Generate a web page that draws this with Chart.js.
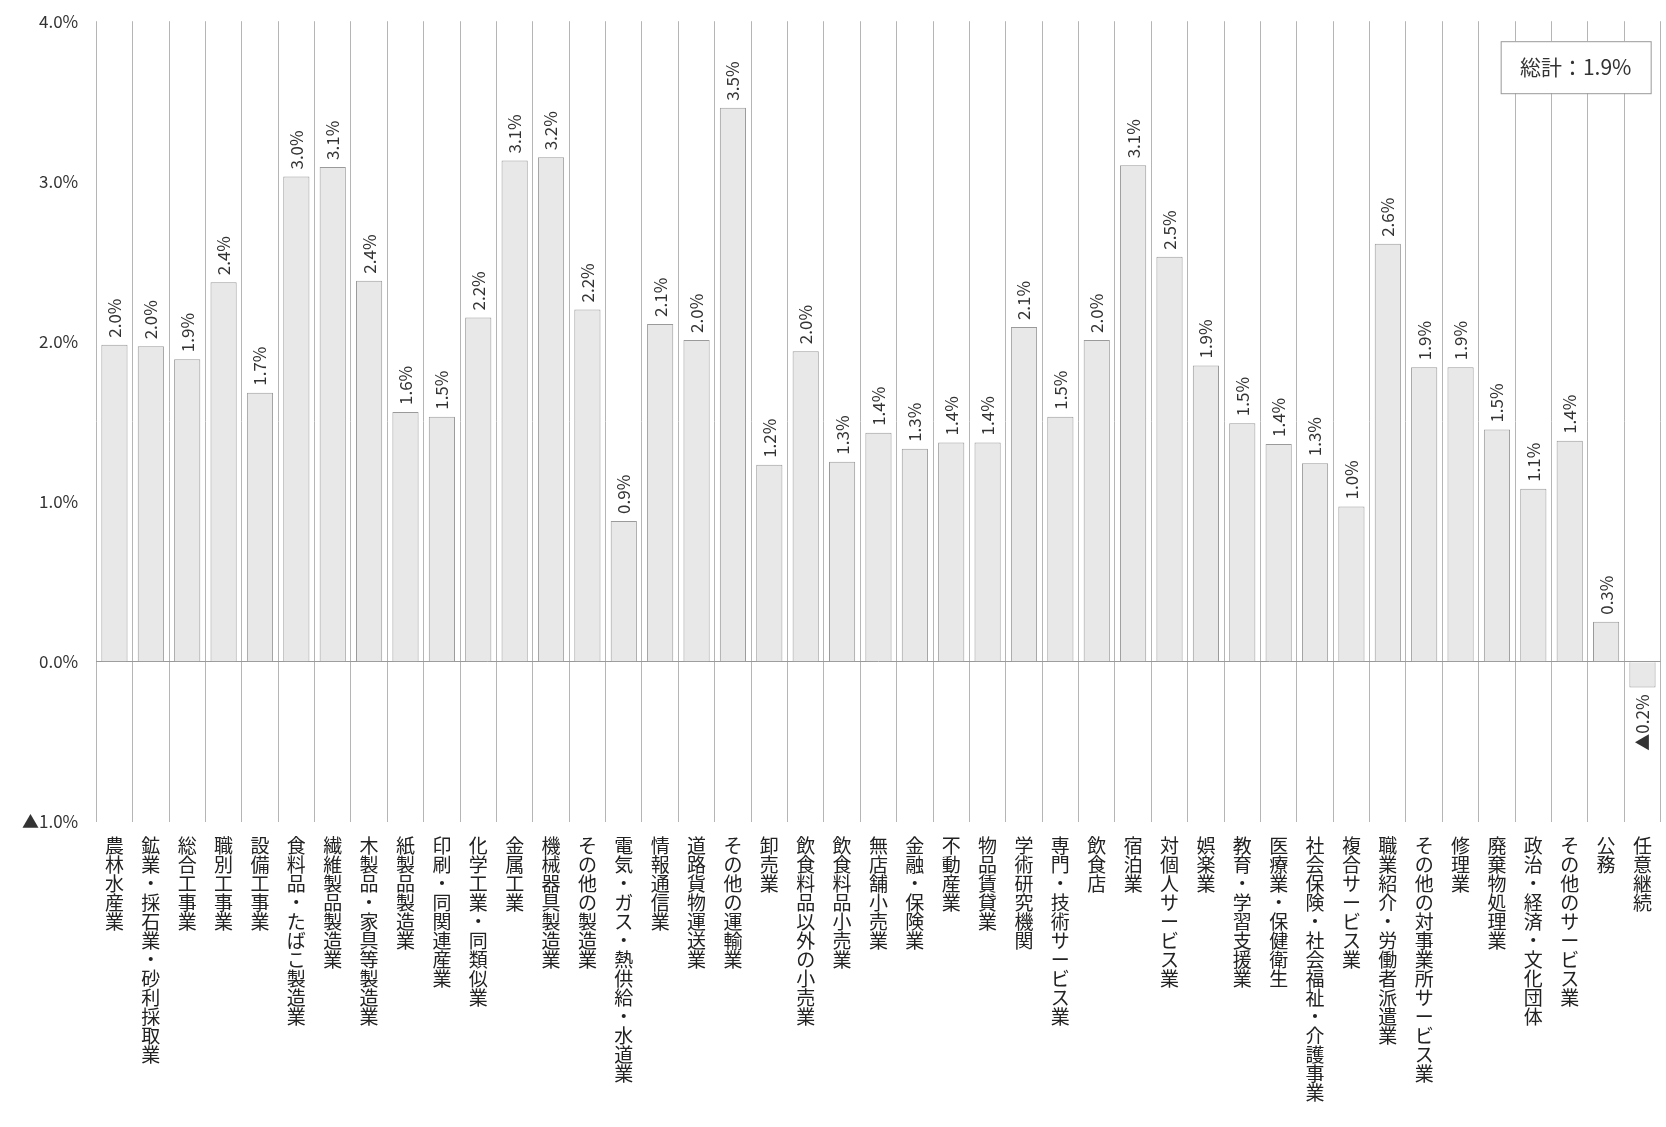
<!DOCTYPE html>
<html><head><meta charset="utf-8">
<script src="https://cdn.jsdelivr.net/npm/chart.js@4"></script>
<style>body{margin:0;background:#fff;overflow:hidden}#w{width:1666px;height:1127px;position:relative;top:-7px}</style>
</head><body><div id="w"><canvas id="c"></canvas></div>
<script>
const categories=["農林水産業","鉱業・採石業・砂利採取業","総合工事業","職別工事業","設備工事業","食料品・たばこ製造業","繊維製品製造業","木製品・家具等製造業","紙製品製造業","印刷・同関連産業","化学工業・同類似業","金属工業","機械器具製造業","その他の製造業","電気・ガス・熱供給・水道業","情報通信業","道路貨物運送業","その他の運輸業","卸売業","飲食料品以外の小売業","飲食料品小売業","無店舗小売業","金融・保険業","不動産業","物品賃貸業","学術研究機関","専門・技術サービス業","飲食店","宿泊業","対個人サービス業","娯楽業","教育・学習支援業","医療業・保健衛生","社会保険・社会福祉・介護事業","複合サービス業","職業紹介・労働者派遣業","その他の対事業所サービス業","修理業","廃棄物処理業","政治・経済・文化団体","その他のサービス業","公務","任意継続"];
const values=[1.98,1.97,1.89,2.37,1.68,3.03,3.09,2.38,1.56,1.53,2.15,3.13,3.15,2.2,0.88,2.11,2.01,3.46,1.23,1.94,1.25,1.43,1.33,1.37,1.37,2.09,1.53,2.01,3.1,2.53,1.85,1.49,1.36,1.24,0.97,2.61,1.84,1.84,1.45,1.08,1.38,0.25,-0.16];
const valueLabels=["2.0%","2.0%","1.9%","2.4%","1.7%","3.0%","3.1%","2.4%","1.6%","1.5%","2.2%","3.1%","3.2%","2.2%","0.9%","2.1%","2.0%","3.5%","1.2%","2.0%","1.3%","1.4%","1.3%","1.4%","1.4%","2.1%","1.5%","2.0%","3.1%","2.5%","1.9%","1.5%","1.4%","1.3%","1.0%","2.6%","1.9%","1.9%","1.5%","1.1%","1.4%","0.3%","▲0.2%"];
const totalLabel="総計：1.9%";
const FONT="'Noto Sans CJK JP', sans-serif";
const valPlugin={id:'vals',afterDatasetsDraw(ch){
  const ctx=ch.ctx;const meta=ch.getDatasetMeta(0);
  ctx.save();ctx.font="17px "+FONT;ctx.fillStyle="#333";ctx.textBaseline="middle";
  meta.data.forEach((b,i)=>{
    ctx.save();
    if(values[i]>=0){ctx.translate(b.x,b.y-7);ctx.rotate(-Math.PI/2);ctx.textAlign="left";}
    else{ctx.translate(b.x,b.y+7);ctx.rotate(-Math.PI/2);ctx.textAlign="right";}
    ctx.fillText(valueLabels[i],0,0);ctx.restore();
  });
  const a=ch.chartArea;
  const x=a.right-160,y=a.top+20,w=150,h=52;
  ctx.fillStyle="#fff";ctx.fillRect(x,y,w,h);ctx.strokeStyle="#999";ctx.lineWidth=1;ctx.strokeRect(x+0.5,y+0.5,w,h);
  ctx.fillStyle="#333";ctx.font="21px "+FONT;ctx.textAlign="center";ctx.fillText(totalLabel,x+w/2,y+h/2);
  ctx.restore();
}};
new Chart(document.getElementById('c'),{
  type:'bar',
  data:{labels:categories.map(s=>Array.from(s)),datasets:[{data:values,backgroundColor:'#e8e8e8',borderColor:'#9a9a9a',borderWidth:1,barPercentage:0.72,categoryPercentage:1}]},
  options:{responsive:true,maintainAspectRatio:false,animation:false,
    layout:{padding:{top:13,right:2,left:4,bottom:4}},
    plugins:{legend:{display:false},tooltip:{enabled:false}},
    scales:{
      x:{offset:true,grid:{offset:true,color:'#b5b5b5',drawTicks:false},border:{display:false},
        ticks:{autoSkip:false,maxRotation:0,minRotation:0,padding:14,color:'#222',font:{size:19,family:FONT,lineHeight:1.0}}},
      y:{min:-1,max:4,grid:{color:c=>c.tick.value===0?'#999':'rgba(0,0,0,0)',drawTicks:false},border:{display:false},
        ticks:{stepSize:1,padding:18,color:'#333',font:{size:17,family:FONT},callback:v=>v<0?'▲'+Math.abs(v).toFixed(1)+'%':v.toFixed(1)+'%'}}
    }},
  plugins:[valPlugin]
});
</script></body></html>
